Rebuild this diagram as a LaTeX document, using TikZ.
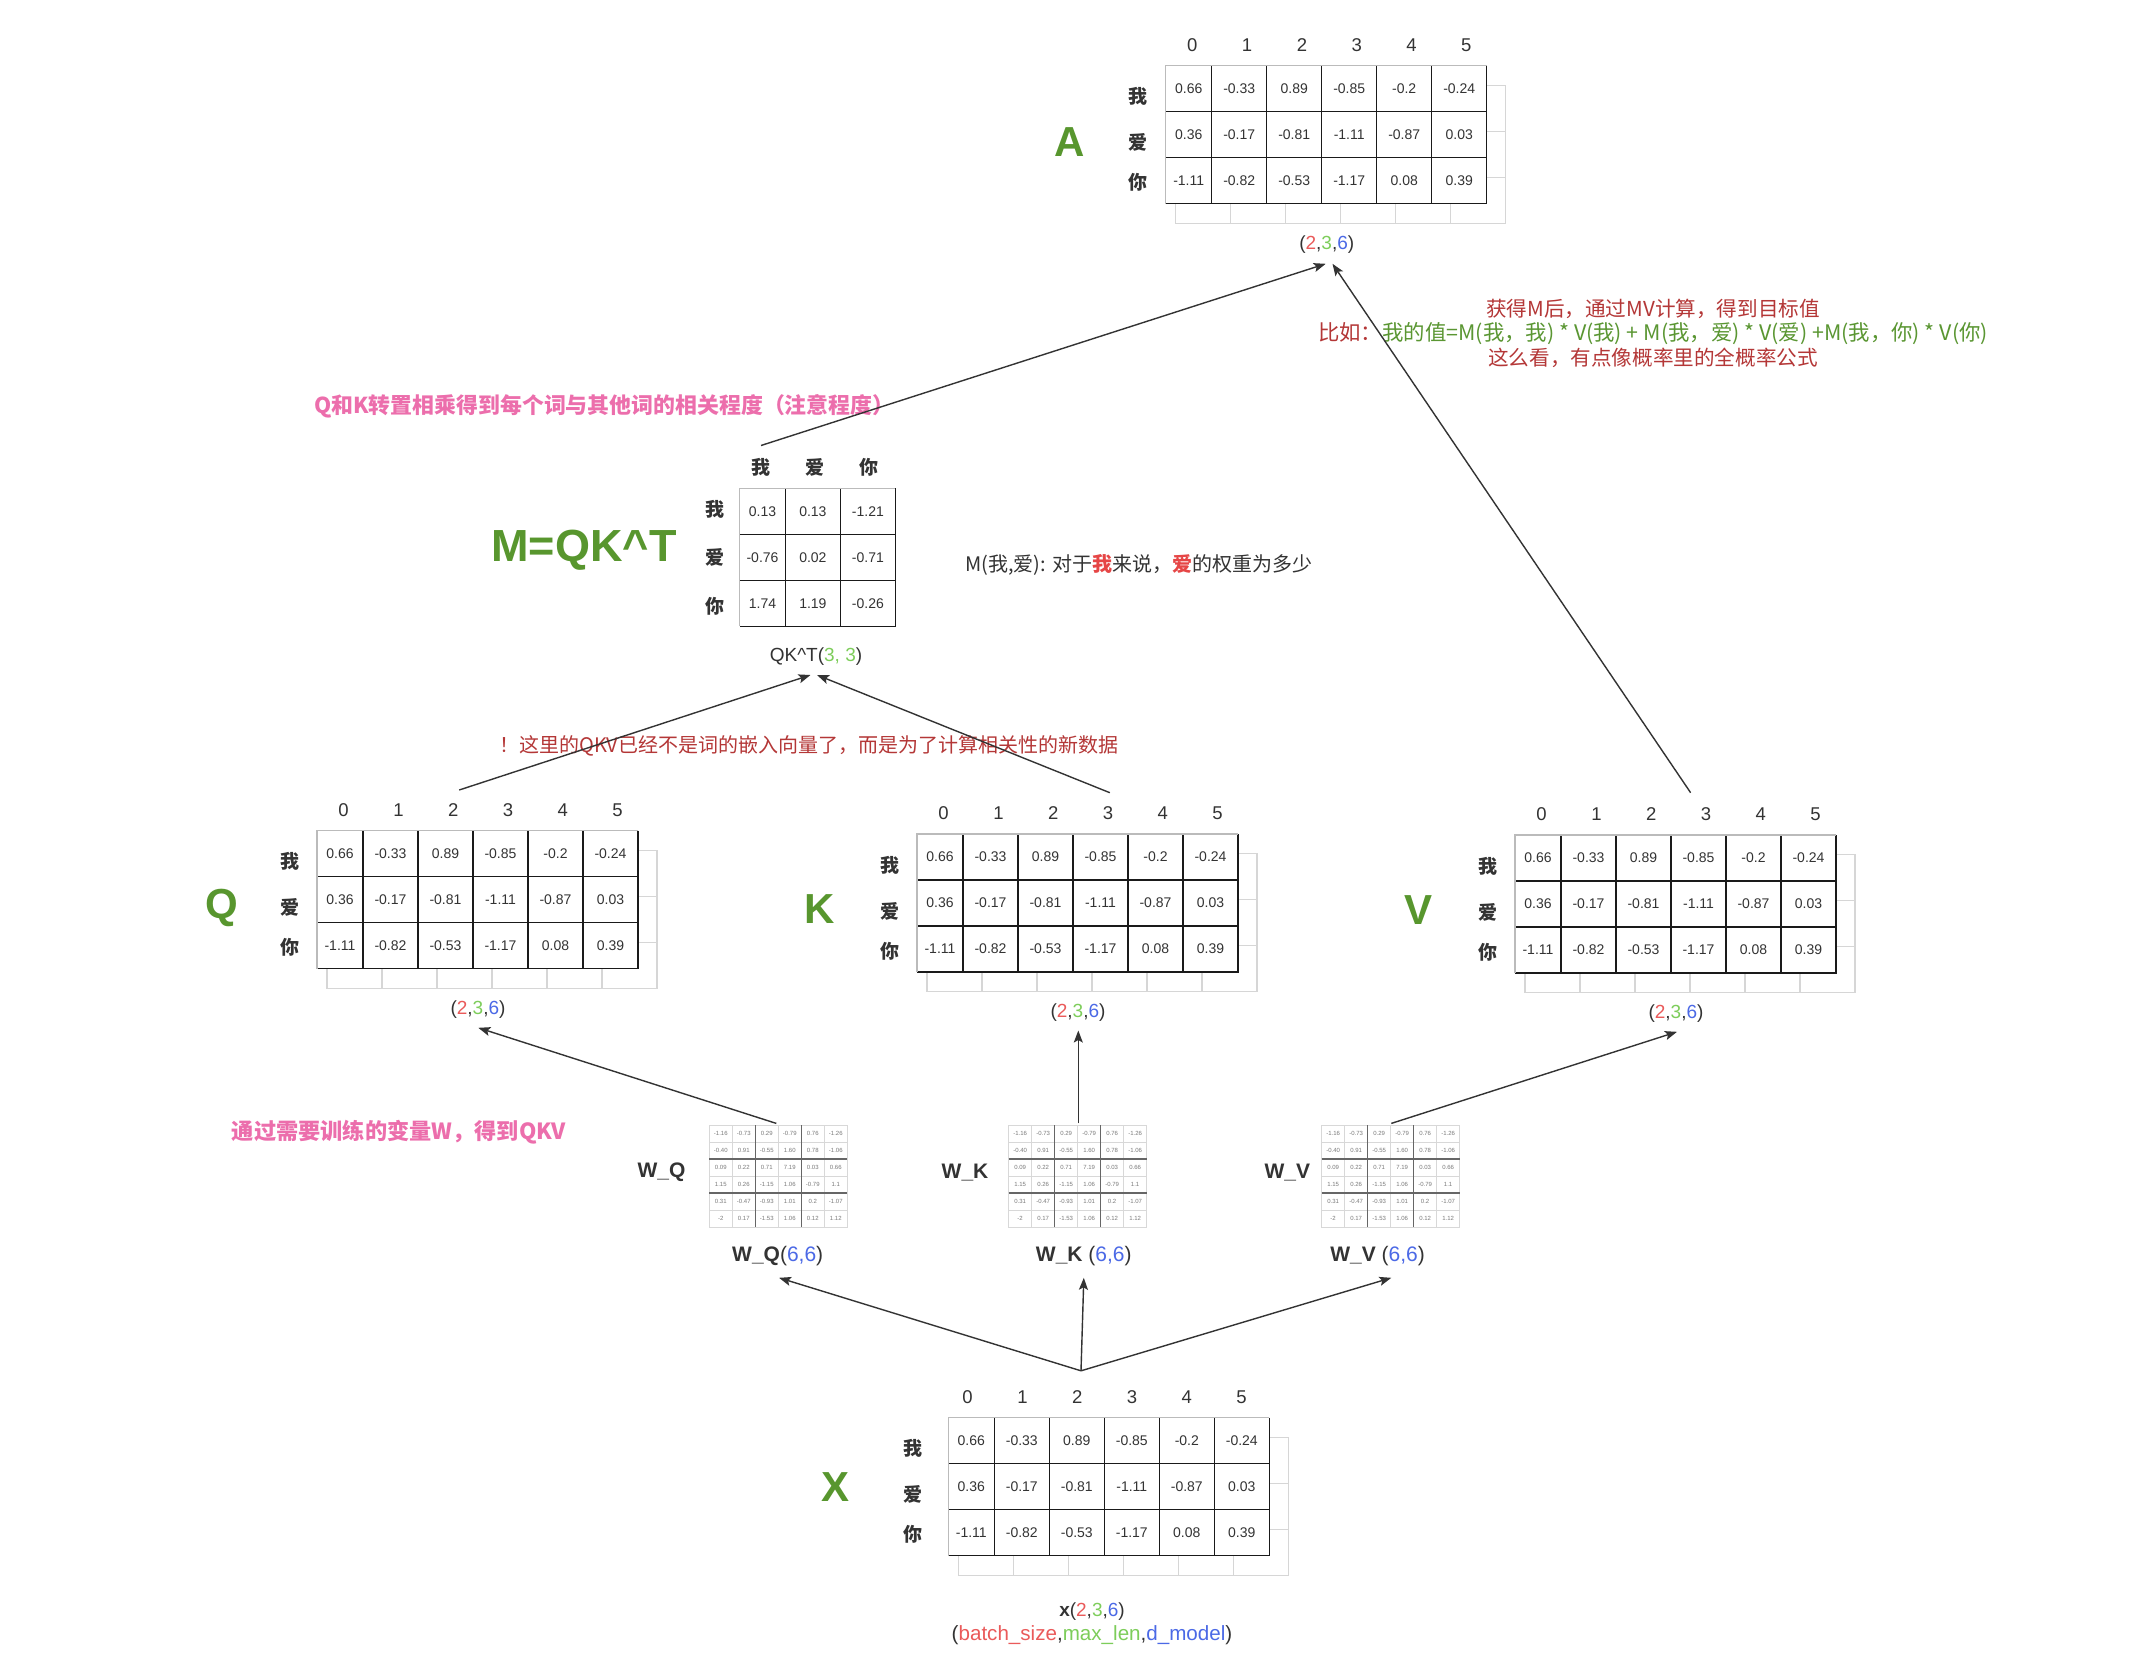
\documentclass[tikz,border=0pt]{standalone}
\usepackage{fontspec}
\setmainfont{Liberation Sans}
\newfontfamily\cjk{Noto Sans CJK SC}
\usetikzlibrary{arrows.meta}

\definecolor{ink}{HTML}{333333}
\definecolor{gridc}{HTML}{1A1A1A}
\definecolor{edgec}{HTML}{BBBBBB}
\definecolor{sheetc}{HTML}{D6D6D6}
\definecolor{faintc}{HTML}{D8D8D8}
\definecolor{tinyc}{HTML}{7A7A7A}
\definecolor{leaf}{RGB}{88,150,46}
\definecolor{dimr}{RGB}{234,90,90}
\definecolor{dimg}{RGB}{125,205,90}
\definecolor{dimb}{RGB}{75,105,230}
\definecolor{pinknote}{RGB}{236,110,172}
\definecolor{rednote}{RGB}{180,55,55}
\definecolor{greennote}{RGB}{90,150,50}
\definecolor{hl}{RGB}{230,70,70}

\newcommand\fsz[1]{\fontsize{#1}{#1}\selectfont}
\newcommand\dimtriple{(\textcolor{dimr}{2},\textcolor{dimg}{3},\textcolor{dimb}{6})}

\tikzset{
  cellnum/.style={font=\fsz{14}, text=ink, inner sep=0pt},
  tinynum/.style={font=\fsz{6}, text=tinyc, inner sep=0pt},
  colhead/.style={font=\fsz{18.5}, text=ink, inner sep=0pt},
  rowhead/.style={font=\cjk\bfseries\fsz{19}, text=ink, inner sep=0pt},
  bigletter/.style={font=\bfseries\fsz{42}, text=leaf, inner sep=0pt},
  dimlabel/.style={font=\fsz{19}, text=ink, inner sep=0pt},
  wlab/.style={font=\bfseries\fsz{21}, text=ink, inner sep=0pt},
  note/.style={font=\cjk\fsz{20}, inner sep=0pt},
  pinkhead/.style={font=\cjk\bfseries\fsz{21.9}, text=pinknote, inner sep=0pt},
  sheetline/.style={draw=sheetc, line width=1.2pt},
  cellline/.style={draw=gridc, line width=1.3pt},
  conn/.style={draw=ink, line width=1.4pt, -{Stealth[length=12pt,width=9pt,inset=2.5pt]}},
}

% a 3x6 embedding table with a second sheet behind it
% #1 name, #2 left, #3 top, #4 first column-number x, #5 row-word x
\newcommand\datamat[5]{%
\begin{scope}[shift={(#2,#3)}]
  \draw[sheetline] (10,19.5) rectangle (340,157.5);
  \foreach \k in {1,...,5} \draw[sheetline] ({10+55*\k},19.5) -- ({10+55*\k},157.5);
  \foreach \k in {1,2} \draw[sheetline] (10,{19.5+46*\k}) -- (340,{19.5+46*\k});
  \fill[white] (0,0) rectangle (321,138);
  \foreach \k in {46,101,156,211,266} \draw[cellline] (\k,0) -- (\k,138);
  \foreach \k in {46,92} \draw[cellline] (0,\k) -- (321,\k);
  \draw[cellline] (321,0) -- (321,138) -- (0,138);
  \draw[draw=edgec, line width=1.3pt] (0,138) -- (0,0) -- (321,0);
  \foreach \rowvals [count=\r from 0] in {{0.66,-0.33,0.89,-0.85,-0.2,-0.24},{0.36,-0.17,-0.81,-1.11,-0.87,0.03},{-1.11,-0.82,-0.53,-1.17,0.08,0.39}} {
    \foreach \v [count=\c from 0] in \rowvals {
      \pgfmathsetmacro\cx{ifthenelse(\c==0,23,18.5+55*\c)}
      \node[cellnum] (#1-\r-\c) at (\cx,{23+46*\r}) {\v};
    }
  }
  \foreach \c in {0,...,5} \node[colhead] (#1-h\c) at ({#4+54.8*\c},-20.7) {\c};
  \foreach \w [count=\r from 0] in {我,爱,你} {
    \pgfmathsetmacro\ry{23+46*\r+ifthenelse(\r==2,2,8)}
    \node[rowhead] (#1-r\r) at (#5,\ry) {\w};
  }
\end{scope}}

% a small 6x6 weight table
\newcommand\weightmat[3]{%
\begin{scope}[shift={(#2,#3)}]
  \fill[white] (0,0) rectangle (138,102);
  \foreach \k in {1,3,5} \draw[draw=faintc, line width=1pt] ({23*\k},0) -- ({23*\k},102);
  \foreach \k in {1,3,5} \draw[draw=faintc, line width=1pt] (0,{17*\k}) -- (138,{17*\k});
  \draw[draw=faintc, line width=1pt] (0,0) rectangle (138,102);
  \foreach \k in {2,4} \draw[draw=gray!80!black, line width=1.2pt] ({23*\k},0) -- ({23*\k},102);
  \foreach \k in {2,4} \draw[draw=gray!80!black, line width=1.2pt] (0,{17*\k}) -- (138,{17*\k});
  \foreach \rowvals [count=\r from 0] in {{-1.16,-0.73,0.29,-0.79,0.76,-1.26},{-0.40,0.91,-0.55,1.60,0.78,-1.06},{0.09,0.22,0.71,7.19,0.03,0.66},{1.15,0.26,-1.15,1.06,-0.79,1.1},{0.31,-0.47,-0.93,1.01,0.2,-1.07},{-2,0.17,-1.53,1.06,0.12,1.12}} {
    \foreach \v [count=\c from 0] in \rowvals {
      \node[tinynum] (#1-\r-\c) at ({11.5+23*\c},{8.5+17*\r}) {\v};
    }
  }
\end{scope}}

\begin{document}
\begin{tikzpicture}[x=1pt,y=-1pt]
\fill[white] (0,0) rectangle (2143,1672);
\useasboundingbox (0,0) rectangle (2143,1672);

% ---------- result A ----------
\datamat{A}{1165.7}{65.7}{26.6}{-27.5}
\node[bigletter] (lA) at (1069.3,141.7) {A};
\node[dimlabel] (dA) at (1326.7,245) {\dimtriple};

% ---------- attention scores M ----------
\begin{scope}[shift={(739.7,488.3)}]
  \fill[white] (0,0) rectangle (155.7,138);
  \foreach \k in {45.7,100.7} \draw[cellline] (\k,0) -- (\k,138);
  \foreach \k in {46,92} \draw[cellline] (0,\k) -- (155.7,\k);
  \draw[cellline] (155.7,0) -- (155.7,138) -- (0,138);
  \draw[draw=edgec, line width=1.3pt] (0,138) -- (0,0) -- (155.7,0);
  \foreach \rowvals [count=\r from 0] in {{0.13,0.13,-1.21},{-0.76,0.02,-0.71},{1.74,1.19,-0.26}} {
    \foreach \v [count=\c from 0] in \rowvals {
      \pgfmathsetmacro\cx{ifthenelse(\c==0,22.8,18.2+55*\c)}
      \node[cellnum] (M-\r-\c) at (\cx,{23+46*\r}) {\v};
    }
  }
  \foreach \w [count=\c from 0] in {我,爱,你} {
    \node[rowhead] (M-h\c) at ({21+54.3*\c},-21) {\w};
  }
  \foreach \w [count=\r from 0] in {我,爱,你} {
    \node[rowhead] (M-r\r) at (-24.7,{20.7+48.85*\r}) {\w};
  }
\end{scope}
\node[font=\bfseries\fsz{45}, text=leaf, inner sep=0pt] (lM) at (584,550.7) {M=QK\textasciicircum T};
\node[dimlabel] (dM) at (816,656.7) {QK\textasciicircum T(\textcolor{dimg}{3, 3})};
\node[note, text=ink, anchor=west] (mnote) at (965,565) {M(我,爱): 对于\textbf{\textcolor{hl}{我}}来说，\textbf{\textcolor{hl}{爱}}的权重为多少};

% ---------- Q, K, V ----------
\datamat{Q}{317}{830.7}{26.6}{-27.5}
\node[bigletter] (lQ) at (222.3,908.3) {Q};
\node[dimlabel] (dQ) at (478,1009.5) {\dimtriple};

\datamat{K}{917}{834}{26.6}{-27.5}
\node[bigletter] (lK) at (820,909) {K};
\node[dimlabel] (dK) at (1078,1012.5) {\dimtriple};

\datamat{V}{1515}{835}{26.6}{-27.5}
\node[bigletter] (lV) at (1418.3,910) {V};
\node[dimlabel] (dV) at (1676,1014) {\dimtriple};

% ---------- weights ----------
\weightmat{WQ}{709.3}{1125}
\weightmat{WK}{1008.6}{1125}
\weightmat{WV}{1321.6}{1125}
\node[wlab] (wq) at (661.5,1172.6) {W\_Q};
\node[wlab] (wk) at (965,1172.6) {W\_K};
\node[wlab] (wv) at (1287.4,1172.6) {W\_V};
\node[wlab] (wqd) at (777.7,1256) {W\_Q\mdseries(\textcolor{dimb}{6,6})};
\node[wlab] (wkd) at (1083.8,1256) {W\_K \mdseries(\textcolor{dimb}{6,6})};
\node[wlab] (wvd) at (1377.6,1256) {W\_V \mdseries(\textcolor{dimb}{6,6})};

% ---------- input X ----------
\datamat{X}{948.3}{1417.7}{19.3}{-35}
\node[bigletter] (lX) at (835,1487) {X};
\node[dimlabel] (dX) at (1092,1611.7) {\textbf{x}\dimtriple};
\node[dimlabel, font=\fsz{20.6}] (dX2) at (1092,1635) {(\textcolor{dimr}{batch\_size},\textcolor{dimg}{max\_len},\textcolor{dimb}{d\_model})};

% ---------- notes ----------
\node[pinkhead, anchor=west] (n_qk) at (314,406) {Q和K转置相乘得到每个词与其他词的相关程度（注意程度）};
\node[pinkhead, font=\cjk\bfseries\fsz{22.2}, anchor=west] (n_w) at (231.7,1132.5) {通过需要训练的变量W，得到QKV};
\node[note, text=rednote, anchor=west] (n_qkv) at (499,745.5) {！这里的QKV已经不是词的嵌入向量了，而是为了计算相关性的新数据};
\node[note, font=\cjk\fsz{20.6}, text=rednote] (n_mv1) at (1653,309) {获得M后，通过MV计算，得到目标值};
\node[note, font=\cjk\fsz{21.4}] (n_mv2) at (1653,333.5) {\textcolor{rednote}{比如：}\textcolor{greennote}{我的值=M(我，我) * V(我) + M(我，爱) * V(爱) +M(我，你) * V(你)}};
\node[note, font=\cjk\fsz{20.6}, text=rednote] (n_mv3) at (1653,358) {这么看，有点像概率里的全概率公式};

% ---------- connector ends ----------
\coordinate (mTop) at (761,445.5);
\coordinate (aTipL) at (1325.7,263.8);
\coordinate (vTop) at (1690.6,792.7);
\coordinate (aTipR) at (1332.5,263.8);
\coordinate (qTop) at (459.2,790);
\coordinate (kTop) at (1109.8,792.7);
\coordinate (mTipL) at (810.5,675);
\coordinate (mTipR) at (817,675);
\coordinate (wqTop) at (776.3,1123.4);
\coordinate (wkTop) at (1078.3,1123.4);
\coordinate (wvTop) at (1391.3,1123.4);
\coordinate (qTip) at (478.3,1027.8);
\coordinate (kTip) at (1078.3,1030.5);
\coordinate (vTip) at (1677,1031.8);
\coordinate (xTop) at (1081,1370.8);
\coordinate (wqTip) at (779,1277.8);
\coordinate (wkTip) at (1083.8,1277.8);
\coordinate (wvTip) at (1391.3,1277.8);

% ---------- connectors ----------
\draw[conn] (mTop) -- (aTipL);
\draw[conn] (vTop) -- (aTipR);
\draw[conn] (qTop) -- (mTipL);
\draw[conn] (kTop) -- (mTipR);
\draw[conn] (wqTop) -- (qTip);
\draw[conn] (wkTop) -- (kTip);
\draw[conn] (wvTop) -- (vTip);
\draw[conn] (xTop) -- (wqTip);
\draw[conn] (xTop) -- (wkTip);
\draw[conn] (xTop) -- (wvTip);
\end{tikzpicture}
\end{document}
